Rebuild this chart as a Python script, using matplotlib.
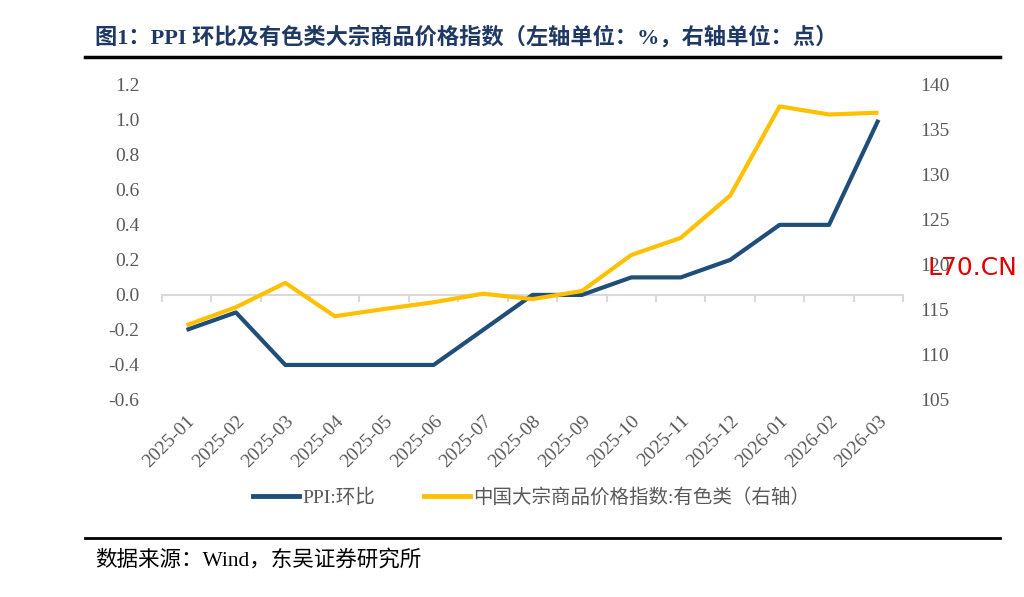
import matplotlib.pyplot as plt
from matplotlib.lines import Line2D

plt.rcParams['font.family'] = ['Liberation Serif', 'Noto Sans CJK SC', 'DejaVu Sans']

months = ['2025-01', '2025-02', '2025-03', '2025-04', '2025-05', '2025-06', '2025-07', '2025-08',
          '2025-09', '2025-10', '2025-11', '2025-12', '2026-01', '2026-02', '2026-03']
ppi_mom = [-0.2, -0.1, -0.4, -0.4, -0.4, -0.4, -0.2, 0.0, 0.0, 0.1, 0.1, 0.2, 0.4, 0.4, 1.0]
nonferrous = [113.3, 115.3, 118.0, 114.3, 115.1, 115.85, 116.8, 116.2, 117.1, 121.1, 123.0,
              127.7, 137.6, 136.7, 136.9]
left_ticks = [-0.6, -0.4, -0.2, 0.0, 0.2, 0.4, 0.6, 0.8, 1.0, 1.2]
right_ticks = [105, 110, 115, 120, 125, 130, 135, 140]

navy = '#1F4E79'
yellow = '#FFC000'
grey = '#595959'

fig = plt.figure(figsize=(10.24, 5.97), dpi=100)
ax = fig.add_axes([0.158, 0.330, 0.724, 0.528])
ax2 = ax.twinx()

x = list(range(len(months)))
ax.plot(x, ppi_mom, color=navy, lw=3, solid_capstyle='butt', zorder=3)
ax2.plot(x, nonferrous, color=yellow, lw=3, solid_capstyle='butt', zorder=3)

ax.set_xlim(-0.5, len(months) - 0.5)
ax.set_ylim(-0.6, 1.2)
ax2.set_ylim(105, 140)
ax.set_yticks(left_ticks)
ax.set_yticklabels([f'{v:.1f}' for v in left_ticks])
ax2.set_yticks(right_ticks)

for a in (ax, ax2):
    for s in a.spines.values():
        s.set_visible(False)
ax.tick_params(axis='y', length=0, labelsize=14, labelcolor=grey, pad=16)
ax2.tick_params(axis='y', length=0, labelsize=14, labelcolor=grey, pad=12)

# zero line with category boundary ticks
ax.spines['bottom'].set_visible(True)
ax.spines['bottom'].set_position(('data', 0))
ax.spines['bottom'].set_color('#D9D9D9')
ax.spines['bottom'].set_linewidth(1.5)
ax.set_xticks([i - 0.5 for i in range(len(months) + 1)])
ax.set_xticklabels([])
ax.tick_params(axis='x', length=5, width=1.5, color='#D9D9D9', direction='out')

sec = ax.secondary_xaxis('bottom')
sec.set_xticks(x)
sec.set_xticklabels(months, rotation=45, ha='right', va='top', rotation_mode='anchor')
sec.tick_params(axis='x', length=0, labelsize=14, labelcolor=grey, pad=9)
sec.spines['bottom'].set_visible(False)

handles = [Line2D([], [], color=navy, lw=3.5), Line2D([], [], color=yellow, lw=3.5)]
fig.legend(handles, ['PPI:环比', '中国大宗商品价格指数:有色类（右轴）'],
           loc='center', bbox_to_anchor=(0.519, 0.167), ncol=2, frameon=False,
           fontsize=14, labelcolor=grey, handlelength=2.4, handletextpad=0.15,
           columnspacing=2.5)

fig.text(0.093, 0.937, '图1：PPI 环比及有色类大宗商品价格指数（左轴单位：%，右轴单位：点）',
         fontsize=16, fontweight='bold', color='#1F3864', va='center', ha='left')
fig.add_artist(Line2D([0.083, 0.977], [0.905, 0.905], color='black', lw=2.5))
fig.add_artist(Line2D([0.083, 0.977], [0.099, 0.099], color='black', lw=2))
fig.text(0.093, 0.062, '数据来源：Wind，东吴证券研究所', fontsize=15.5, color='black',
         va='center', ha='left')
fig.text(0.906, 0.551, 'L70.CN', fontsize=18, color='#E00000', family='DejaVu Sans',
         va='center', ha='left', zorder=10)

fig.savefig('out.png', dpi=100)
